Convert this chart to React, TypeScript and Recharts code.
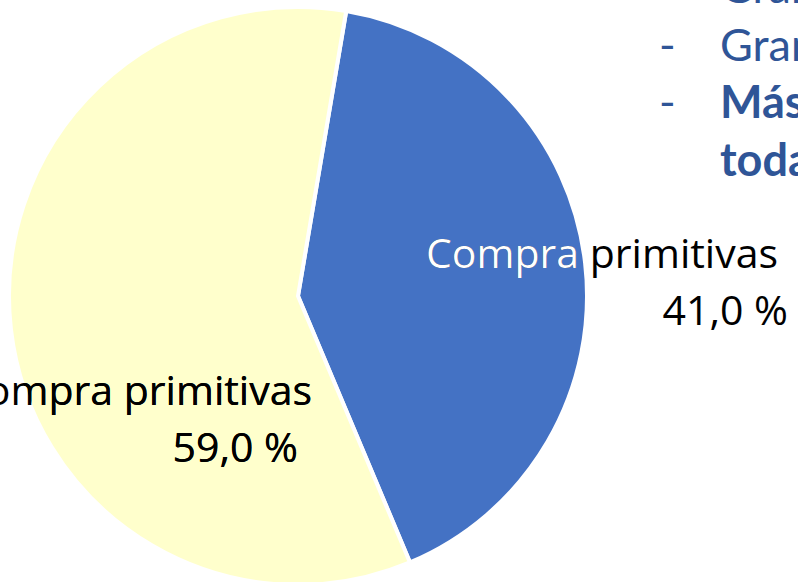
import { PieChart, Pie, Cell } from 'recharts'

// slice data (clockwise from the top, blue first)
const CATEGORIES = ['Compra primitivas', 'Compra primitivas']
const SHARES = [41.0, 59.0]
const COLORS = ['#4472C4', '#FFFFCC']
// colour of the label where it sits on its own slice
const INSIDE_TEXT = ['#FFFFFF', '#000000']

// slide text cut off on the right
const BULLET_MARKS = ['', '-', '-', '']
const BULLET_TEXT = ['Gran', 'Gran', 'Más', 'toda']
const BULLET_BOLD = [false, false, true, true]

const FONT = '"Open Sans", Lato, sans-serif'
const SLIDE_FONT = 'Lato, "Open Sans", sans-serif'
const W = 798
const H = 582
const CX = 298
const CY = 296
const R = 289

// label line anchors (text-anchor end), relative to pie centre
const LABEL_POS = [
  [
    [480, -28],
    [490, 29],
  ],
  [
    [14, 109],
    [0, 166],
  ],
]

const data = CATEGORIES.map((name, i) => ({ name, value: SHARES[i] }))

const fmt = (v: number) => `${v.toFixed(1).replace('.', ',')} %`

function sectorPath(cx: number, cy: number, r: number, a0: number, a1: number) {
  const rad = Math.PI / 180
  const x0 = cx + r * Math.cos(a0 * rad)
  const y0 = cy - r * Math.sin(a0 * rad)
  const x1 = cx + r * Math.cos(a1 * rad)
  const y1 = cy - r * Math.sin(a1 * rad)
  const large = Math.abs(a1 - a0) > 180 ? 1 : 0
  const sweep = a1 < a0 ? 1 : 0
  return `M${cx},${cy} L${x0},${y0} A${r},${r} 0 ${large} ${sweep} ${x1},${y1} Z`
}

function SliceLabel(props: any) {
  const { cx, cy, outerRadius, startAngle, endAngle, index, name, value } = props
  const pos = LABEL_POS[index]
  const clipId = `slice-clip-${index}`
  const lines = [name, fmt(value)]
  const texts = (fill: string) =>
    lines.map((t, k) => (
      <text
        key={k}
        x={cx + pos[k][0]}
        y={cy + pos[k][1]}
        textAnchor="end"
        fill={fill}
        fontFamily={FONT}
        fontSize={41}
        style={{ fontVariantLigatures: 'none' }}
      >
        {t}
      </text>
    ))
  return (
    <g>
      <defs>
        <clipPath id={clipId}>
          <path d={sectorPath(cx, cy, outerRadius - 2, startAngle, endAngle)} />
        </clipPath>
      </defs>
      {texts('#000000')}
      <g clipPath={`url(#${clipId})`}>{texts(INSIDE_TEXT[index])}</g>
    </g>
  )
}

export default function App() {
  return (
    <div
      style={{
        position: 'fixed',
        left: 0,
        top: 0,
        width: W,
        height: H,
        overflow: 'hidden',
        background: '#ffffff',
      }}
    >
      <PieChart width={W} height={H} margin={{ top: 0, right: 0, bottom: 0, left: 0 }}>
        <Pie
          data={data}
          dataKey="value"
          nameKey="name"
          cx={CX}
          cy={CY}
          outerRadius={R}
          startAngle={80.4}
          endAngle={-279.6}
          stroke="#ffffff"
          strokeWidth={4}
          labelLine={false}
          label={SliceLabel}
          isAnimationActive={false}
        >
          {data.map((d, i) => (
            <Cell key={i} fill={COLORS[i]} />
          ))}
        </Pie>
      </PieChart>

      <svg width={W} height={H} style={{ position: 'absolute', left: 0, top: 0, pointerEvents: 'none' }}>
        {BULLET_TEXT.map((t, i) => (
          <g key={i} fontFamily={SLIDE_FONT} fontSize={45} fill="#2F5597">
            <text x={659} y={3 + i * 57.5}>
              {BULLET_MARKS[i]}
            </text>
            <text x={720} y={3 + i * 57.5} fontWeight={BULLET_BOLD[i] ? 700 : 400}>
              {t}
            </text>
          </g>
        ))}
      </svg>
    </div>
  )
}
